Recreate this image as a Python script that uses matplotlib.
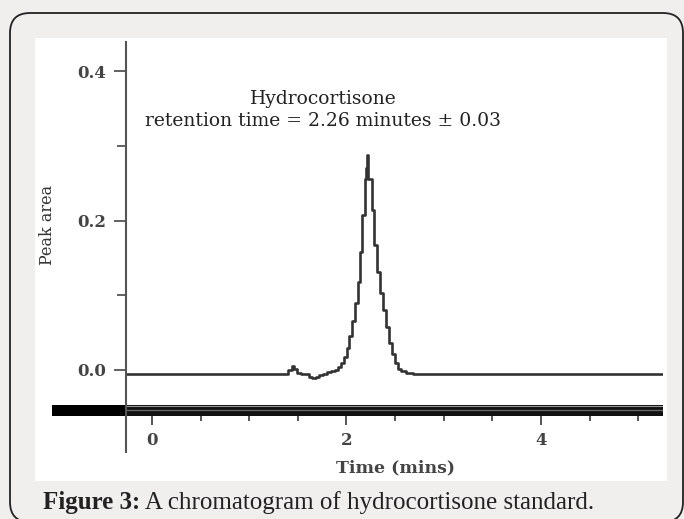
import matplotlib.pyplot as plt
from matplotlib.patches import FancyBboxPatch, Rectangle

# chromatogram trace (time in minutes, signal)
tempo = [-0.27, 1.38, 1.42, 1.45, 1.48, 1.51, 1.55, 1.59, 1.63, 1.67, 1.70, 1.74,
         1.78, 1.82, 1.86, 1.90, 1.93, 1.96, 1.99, 2.02, 2.04, 2.07, 2.10, 2.13,
         2.15, 2.175, 2.20, 2.21, 2.215, 2.22, 2.23, 2.25, 2.27, 2.30, 2.33,
         2.36, 2.39, 2.42, 2.45, 2.48, 2.51, 2.54, 2.58, 2.65, 2.72, 5.25]
sinal = [-0.005, -0.005, 0.000, 0.005, 0.002, -0.004, -0.006, -0.006, -0.009,
         -0.011, -0.009, -0.007, -0.005, -0.003, -0.002, 0.000, 0.004, 0.009,
         0.018, 0.030, 0.045, 0.065, 0.090, 0.118, 0.158, 0.207, 0.255, 0.270,
         0.287, 0.270, 0.255, 0.255, 0.214, 0.167, 0.131, 0.103, 0.080, 0.058,
         0.036, 0.022, 0.009, 0.002, -0.002, -0.004, -0.005, -0.005]

yticks_maj = [0.0, 0.2, 0.4]
yticks_lab = ["0.0", "0.2", "0.4"]
yticks_min = [0.1, 0.3]
xticks_maj = [0, 2, 4]
xticks_lab = ["0", "2", "4"]
xticks_min = [0.5, 1, 1.5, 2.5, 3, 3.5, 4.5, 5]

anotacao = "Hydrocortisone\nretention time = 2.26 minutes \u00b1 0.03"
legenda_neg = "Figure 3:"
legenda = " A chromatogram of hydrocortisone standard."

serif = "DejaVu Serif"
cinza = "#555555"

fig = plt.figure(figsize=(6.84, 5.19), dpi=100)
fig.patch.set_facecolor("#f0efee")

# moldura arredondada e area branca (em polegadas)
fig.add_artist(FancyBboxPatch((0.10, -0.03), 6.73, 5.09,
                              boxstyle="round,pad=0,rounding_size=0.2",
                              transform=fig.dpi_scale_trans, zorder=-3,
                              facecolor="#f0efee", edgecolor="#222222", lw=1.3))
fig.add_artist(Rectangle((0.35, 0.38), 6.32, 4.43, transform=fig.dpi_scale_trans,
                         facecolor="white", edgecolor="none", zorder=-2))

ax = fig.add_axes([126 / 684, 67 / 519, 537 / 684, 410 / 519])
ax.set_facecolor("none")
ax.set_xlim(-0.267, 5.254)
ax.set_ylim(-0.1097, 0.4388)

# traço do cromatograma
ax.plot(tempo, sinal, drawstyle="steps-mid", color="#333333", lw=1.9)

# faixa grossa do eixo x
ax.add_patch(Rectangle((-1.028, -0.0615), 1.028 - 0.267, 0.0147,
                       facecolor="black", edgecolor="none", clip_on=False))
ax.axhspan(-0.0615, -0.0468, color="#111111", lw=0)
ax.axhline(-0.0478, color="#9a9a9a", lw=0.8)
ax.axhline(-0.0535, color="#6a6a6a", lw=0.9)

# eixos
for s in ["top", "right", "bottom"]:
    ax.spines[s].set_visible(False)
ax.spines["bottom"].set_position(("data", -0.0615))
ax.spines["left"].set_color(cinza)
ax.spines["left"].set_linewidth(1.5)

ax.set_yticks(yticks_maj)
ax.set_yticklabels(yticks_lab)
ax.set_yticks(yticks_min, minor=True)
ax.set_xticks(xticks_maj)
ax.set_xticklabels(xticks_lab)
ax.set_xticks(xticks_min, minor=True)

ax.tick_params(axis="y", which="major", direction="out", length=8.5, width=1.3,
               color=cinza, pad=6)
ax.tick_params(axis="y", which="minor", direction="out", length=6.5, width=1.3,
               color=cinza)
ax.tick_params(axis="x", which="major", direction="out", length=6.5, width=1.4,
               color=cinza, pad=5)
ax.tick_params(axis="x", which="minor", direction="out", length=3.8, width=1.4,
               color=cinza)
for lab in ax.get_xticklabels() + ax.get_yticklabels():
    lab.set_fontfamily(serif)
    lab.set_fontweight("bold")
    lab.set_fontsize(12)
    lab.set_color("#444444")

ax.set_ylabel("Peak area", fontfamily=serif, fontsize=11.5, color="#333333",
              va="center")
ax.yaxis.set_label_coords(-0.1453, 0.5537)
ax.set_xlabel("Time (mins)", fontfamily=serif, fontsize=12.5, fontweight="bold",
              color="#444444", va="center")
ax.xaxis.set_label_coords(0.501, -0.039)

ax.text(1.758, 0.348, anotacao, ha="center", va="center", multialignment="center",
        fontfamily=serif, fontsize=13.5, color="#222222", linespacing=1.33)

# legenda da figura
t1 = fig.text(43 / 684, 16 / 519, legenda_neg, fontfamily="Liberation Serif",
              fontsize=18, fontweight="bold", color="#222222", va="center")
ax.annotate(legenda, xy=(1, 0.5), xycoords=t1, va="center", ha="left",
            fontfamily="Liberation Serif", fontsize=18, color="#222222",
            annotation_clip=False)

fig.savefig("out.png", dpi=100, facecolor=fig.get_facecolor())
